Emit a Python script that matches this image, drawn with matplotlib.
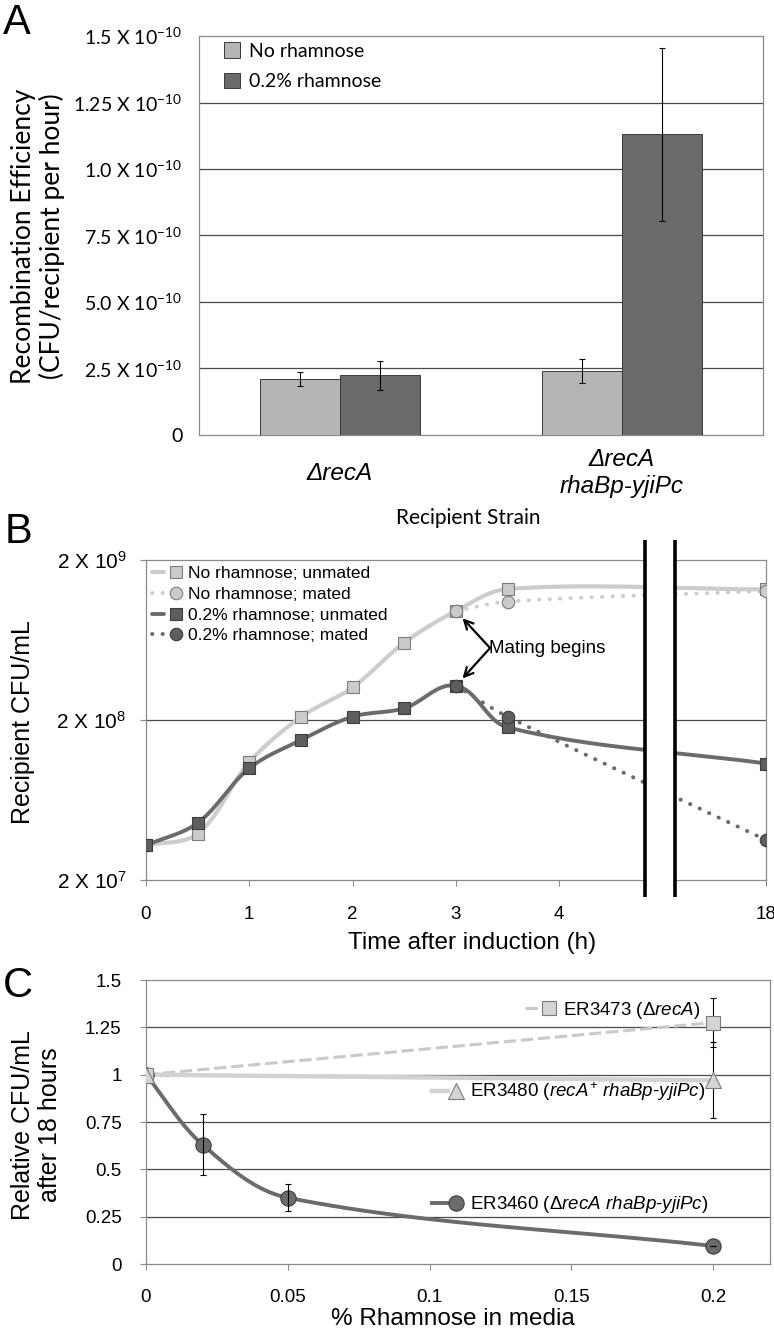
import numpy as np
import matplotlib
matplotlib.use("Agg")
import matplotlib.pyplot as plt
import matplotlib.transforms as mtransforms
from matplotlib.patches import Rectangle
from matplotlib.legend_handler import HandlerTuple

plt.rcParams["font.family"] = "Liberation Sans"
plt.rcParams["mathtext.fontset"] = "custom"
plt.rcParams["mathtext.rm"] = "Liberation Sans"
plt.rcParams["mathtext.it"] = "Liberation Sans:italic"
CAL = "Lato"  # stand-in for Calibri

# ---------------------------------------------------------------- data
# A: recombination efficiency (axis units as printed)
strains = ["\u0394recA", "\u0394recA\nrhaBp-yjiPc"]
eff_no_rha = [0.21, 0.24]
eff_no_rha_err = [0.025, 0.045]
eff_rha = [0.225, 1.13]
eff_rha_err = [0.055, 0.325]
eff_ticks = [0, 0.25, 0.5, 0.75, 1.0, 1.25, 1.5]
eff_ticklabels = ["0", "2.5 X $\\mathdefault{10^{-10}}$", "5.0 X $\\mathdefault{10^{-10}}$",
                  "7.5 X $\\mathdefault{10^{-10}}$", "1.0 X $\\mathdefault{10^{-10}}$",
                  "1.25 X $\\mathdefault{10^{-10}}$", "1.5 X $\\mathdefault{10^{-10}}$"]

# B: recipient CFU/mL after induction
time_h = [0, 0.5, 1, 1.5, 2, 2.5, 3, 3.5, 18]
cfu_no_unmated = [3.3e7, 3.9e7, 1.09e8, 2.09e8, 3.2e8, 6.1e8, 9.6e8, 1.32e9, 1.31e9]
cfu_rha_unmated = [3.3e7, 4.55e7, 1.0e8, 1.5e8, 2.1e8, 2.37e8, 3.28e8, 1.8e8, 1.07e8]
time_mated = [3, 3.5, 18]
cfu_no_mated = [9.6e8, 1.1e9, 1.28e9]
cfu_rha_mated = [3.28e8, 2.1e8, 3.56e7]
time_ticks = [0, 1, 2, 3, 4, 18]
cfu_ticks = [2e7, 2e8, 2e9]
cfu_ticklabels = ["2 X $\\mathdefault{10^{7}}$", "2 X $\\mathdefault{10^{8}}$", "2 X $\\mathdefault{10^{9}}$"]

# C: relative CFU/mL after 18 h vs rhamnose
rha_3473 = [0, 0.2]
rel_3473 = [1.0, 1.275]
err_3473 = [0, 0.13]
rha_3480 = [0, 0.2]
rel_3480 = [1.0, 0.97]
err_3480 = [0, 0.2]
rha_3460 = [0, 0.02, 0.05, 0.2]
rel_3460 = [1.0, 0.63, 0.35, 0.095]
err_3460 = [0, 0.16, 0.07, 0]

LIGHT_LINE = "#cdcdcd"
LIGHT_FACE = "#cbcbcb"
LIGHT_EDGE = "#7c7c7c"
DARK_LINE = "#6b6b6b"
DARK_FACE = "#5e5e5e"
DARK_EDGE = "#3c3c3c"
SPINE = "#8a8a8a"
GRID = "#4a4a4a"


def smooth_curve(x, y, sx=1.0, sy=1.0, n=30):
    # excel-like smoothed line: bezier through the points, tangents from the
    # neighbours, handle length a third of the segment (in screen proportions)
    X = np.asarray(x, float) * sx
    Y = np.asarray(y, float) * sy
    P = np.column_stack([X, Y])
    Pp = np.vstack([P[:1], P, P[-1:]])
    t = np.linspace(0, 1, n)[:, None]
    pts = [P[:1]]
    for i in range(1, len(Pp) - 2):
        p0, p1, p2, p3 = Pp[i - 1], Pp[i], Pp[i + 1], Pp[i + 2]
        L = np.linalg.norm(p2 - p1)
        d1 = (p2 - p0) / np.linalg.norm(p2 - p0)
        d2 = (p3 - p1) / np.linalg.norm(p3 - p1)
        c1 = p1 + d1 * L / 3
        c2 = p2 - d2 * L / 3
        seg = (1 - t) ** 3 * p1 + 3 * (1 - t) ** 2 * t * c1 + 3 * (1 - t) * t ** 2 * c2 + t ** 3 * p2
        pts.append(seg[1:])
    pts = np.vstack(pts)
    return pts[:, 0] / sx, pts[:, 1] / sy


def tpos(t):
    # axis break: 18 h is drawn at position 6
    return np.where(np.asarray(t, float) > 4, 6.0, t)


def frame(ax):
    for s in ax.spines.values():
        s.set_color(SPINE)
        s.set_linewidth(0.9)


fig = plt.figure(figsize=(7.74, 13.29), dpi=100)

# ================================================================ A
ax = fig.add_axes([0.2571, 0.6727, 0.7287, 0.3002])
frame(ax)
xa = np.arange(len(strains))
w = 0.284
ax.bar(xa - w / 2, eff_no_rha, w, color="#b5b5b5", edgecolor="#3a3a3a", linewidth=0.7,
       label="No rhamnose", zorder=3)
ax.bar(xa + w / 2, eff_rha, w, color="#6a6a6a", edgecolor="#3a3a3a", linewidth=0.7,
       label="0.2% rhamnose", zorder=3)
ax.errorbar(xa - w / 2, eff_no_rha, yerr=eff_no_rha_err, fmt="none", ecolor="black",
            elinewidth=0.8, capsize=2, capthick=0.8, zorder=4)
ax.errorbar(xa + w / 2, eff_rha, yerr=eff_rha_err, fmt="none", ecolor="black",
            elinewidth=0.8, capsize=2, capthick=0.8, zorder=4)
ax.set_xlim(-0.5, 1.5)
ax.set_ylim(0, 1.5)
ax.set_yticks(eff_ticks)
ax.set_yticklabels(eff_ticklabels, fontfamily=CAL, fontsize=14)
ax.yaxis.grid(True, color=GRID, linewidth=0.9)
ax.set_axisbelow(True)
gl = ax.get_ygridlines()
gl[0].set_visible(False)
gl[-1].set_visible(False)
ax.tick_params(axis="y", length=0, pad=12)
ax.set_xticks(xa)
ax.set_xticklabels(strains, fontsize=17.5, fontstyle="italic", va="center", linespacing=1.25)
ax.tick_params(axis="x", length=0, pad=27.5)
ax.set_xlabel("Recipient Strain", fontfamily=CAL, fontsize=15, va="center")
ax.xaxis.set_label_coords(0.477, -0.208)
ax.set_ylabel("Recombination Efficiency\n(CFU/recipient per hour)", fontfamily=CAL,
              fontsize=19, va="center", linespacing=1.12)
ax.yaxis.set_label_coords(-0.285, 0.499)
ax.legend(loc="upper left", bbox_to_anchor=(0.044, 0.984), frameon=False, borderpad=0,
          borderaxespad=0, prop={"family": CAL, "size": 14}, handlelength=0.85,
          handleheight=0.85, handletextpad=0.46, labelspacing=0.65)

# ================================================================ B
ax = fig.add_axes([0.1886, 0.3378, 0.801, 0.2408])
frame(ax)
ax.set_yscale("log")
ax.set_xlim(0, 6)
ax.set_ylim(2e7, 2e9)
bsx, bsy = 620 / 6, 160.0

px, py = smooth_curve(tpos(time_h), np.log10(cfu_no_unmated), bsx, bsy)
l1, = ax.plot(px, 10 ** py, color=LIGHT_LINE, lw=3, solid_capstyle="round", zorder=3)
m1, = ax.plot(tpos(time_h), cfu_no_unmated, "s", ms=8.5, mfc=LIGHT_FACE, mec=LIGHT_EDGE, mew=0.8, zorder=4)
px, py = smooth_curve(tpos(time_mated), np.log10(cfu_no_mated), bsx, bsy)
l2, = ax.plot(px, 10 ** py, color=LIGHT_LINE, lw=2.8, linestyle=(0, (0.1, 2.6)),
              dash_capstyle="round", zorder=3)
m2, = ax.plot(tpos(time_mated), cfu_no_mated, "o", ms=9, mfc=LIGHT_FACE, mec=LIGHT_EDGE, mew=0.8, zorder=4)
px, py = smooth_curve(tpos(time_h), np.log10(cfu_rha_unmated), bsx, bsy)
l3, = ax.plot(px, 10 ** py, color=DARK_LINE, lw=2.8, solid_capstyle="round", zorder=3)
m3, = ax.plot(tpos(time_h), cfu_rha_unmated, "s", ms=8.5, mfc=DARK_FACE, mec=DARK_EDGE, mew=0.8, zorder=4)
px, py = smooth_curve(tpos(time_mated), np.log10(cfu_rha_mated), bsx, bsy)
l4, = ax.plot(px, 10 ** py, color=DARK_LINE, lw=2.8, linestyle=(0, (0.1, 2.6)),
              dash_capstyle="round", zorder=3)
m4, = ax.plot(tpos(time_mated), cfu_rha_mated, "o", ms=9, mfc=DARK_FACE, mec=DARK_EDGE, mew=0.8, zorder=4)

ax.yaxis.set_minor_locator(matplotlib.ticker.NullLocator())
ax.set_yticks(cfu_ticks)
ax.set_yticklabels(cfu_ticklabels, fontsize=15)
ax.yaxis.grid(True, color=GRID, linewidth=0.9)
gl = ax.get_ygridlines()
gl[0].set_visible(False)
gl[-1].set_visible(False)
ax.tick_params(axis="y", length=4, width=0.8, color=SPINE, pad=10)
ax.set_xticks(tpos(time_ticks))
ax.set_xticklabels([str(t) for t in time_ticks], fontsize=13.5, va="center")
ax.tick_params(axis="x", length=4, width=0.8, color=SPINE, pad=20.5)
ax.set_xlabel("Time after induction (h)", fontsize=17.5, va="center")
ax.xaxis.set_label_coords(0.526, -0.197)
ax.set_ylabel("Recipient CFU/mL", fontsize=18, va="center")
ax.yaxis.set_label_coords(-0.199, 0.494)

# axis break
brk_lo, brk_hi = 4.83, 5.12
trans = mtransforms.blended_transform_factory(ax.transData, ax.transAxes)
ax.add_patch(Rectangle((brk_lo, -0.053), brk_hi - brk_lo, 1.116, transform=trans,
                       facecolor="white", edgecolor="none", clip_on=False, zorder=6))
for xb in (brk_lo, brk_hi):
    ax.plot([xb, xb], [-0.053, 1.063], transform=trans, color="black", lw=2.6,
            clip_on=False, zorder=7, solid_capstyle="butt")

# annotation
ax.text(3.32, 5.64e8, "Mating begins", fontsize=13.5, ha="left", va="center", zorder=8)
for yv in (cfu_no_mated[0], cfu_rha_mated[0]):
    ax.annotate("", xy=(3, yv), xytext=(3.33, 5.64e8),
                arrowprops=dict(arrowstyle="->", lw=1.6, color="black", shrinkA=0, shrinkB=7,
                                mutation_scale=16), zorder=8)

ax.legend([(l1, m1), (l2, m2), (l3, m3), (l4, m4)],
          ["No rhamnose; unmated", "No rhamnose; mated", "0.2% rhamnose; unmated", "0.2% rhamnose; mated"],
          handler_map={tuple: HandlerTuple(ndivide=None)}, loc="upper left", bbox_to_anchor=(0, 1),
          frameon=False, borderaxespad=0, borderpad=0.35, fontsize=12.5, handlelength=1.72,
          handletextpad=0.35, labelspacing=0.32)

# ================================================================ C
ax = fig.add_axes([0.1886, 0.0489, 0.8062, 0.2137])
frame(ax)
ax.set_xlim(0, 0.22)
ax.set_ylim(0, 1.5)

h1, = ax.plot(rha_3473, rel_3473, color="#c9c9c9", lw=2.2, dashes=(4, 1.6), zorder=3)
k1, = ax.plot(rha_3473, rel_3473, "s", ms=10, mfc="#d4d4d4", mec=LIGHT_EDGE, mew=0.8, zorder=5)
h2, = ax.plot(rha_3480, rel_3480, color="#d2d2d2", lw=3.2, zorder=3)
k2, = ax.plot(rha_3480, rel_3480, "^", ms=11, mfc="#d4d4d4", mec=LIGHT_EDGE, mew=0.8, zorder=5)
px, py = smooth_curve(rha_3460, rel_3460, 624 / 0.22, 284 / 1.5)
h3, = ax.plot(px, py, color=DARK_LINE, lw=2.8, zorder=3)
k3, = ax.plot(rha_3460, rel_3460, "o", ms=11, mfc="#6c6c6c", mec=DARK_EDGE, mew=0.8, zorder=4)
for xs, ys, es in ((rha_3473, rel_3473, err_3473), (rha_3480, rel_3480, err_3480),
                   (rha_3460, rel_3460, err_3460)):
    ax.errorbar(xs, ys, yerr=es, fmt="none", ecolor="black", elinewidth=0.8, capsize=2.2,
                capthick=0.8, zorder=4.5)

ax.set_yticks([0, 0.25, 0.5, 0.75, 1, 1.25, 1.5])
ax.set_yticklabels(["0", "0.25", "0.5", "0.75", "1", "1.25", "1.5"], fontsize=13.5)
ax.yaxis.grid(True, color=GRID, linewidth=0.9)
gl = ax.get_ygridlines()
gl[0].set_visible(False)
gl[-1].set_visible(False)
ax.tick_params(axis="y", length=4, width=0.8, color=SPINE, pad=13.5)
ax.set_xticks([0, 0.05, 0.1, 0.15, 0.2])
ax.set_xticklabels(["0", "0.05", "0.1", "0.15", "0.2"], fontsize=13.5, va="center")
ax.tick_params(axis="x", length=4, width=0.8, color=SPINE, pad=20)
ax.set_xlabel("% Rhamnose in media", fontsize=17.5, va="center")
ax.xaxis.set_label_coords(0.492, -0.192)
ax.set_ylabel("Relative CFU/mL\nafter 18 hours", fontsize=18, va="center", linespacing=1.15)
ax.yaxis.set_label_coords(-0.175, 0.49)

leg_kw = dict(handler_map={tuple: HandlerTuple(ndivide=None)}, loc="center left", frameon=False,
              borderaxespad=0, borderpad=0, fontsize=13.5, handlelength=1.7, handletextpad=0.35)
lg = ax.legend([(h1, k1)], ["ER3473 ($\\mathit{\\Delta recA}$)"], bbox_to_anchor=(0.607, 0.894), **leg_kw)
ax.add_artist(lg)
lg = ax.legend([(h2, k2)], ["ER3480 ($\\mathit{recA}^{+}$ $\\mathit{rhaBp}$-$\\mathit{yjiPc}$)"],
               bbox_to_anchor=(0.458, 0.606), **leg_kw)
ax.add_artist(lg)
ax.legend([(h3, k3)], ["ER3460 ($\\mathit{\\Delta recA}$ $\\mathit{rhaBp}$-$\\mathit{yjiPc}$)"],
          bbox_to_anchor=(0.458, 0.208), **leg_kw)

# panel letters
fig.text(3 / 774, 1 - 34 / 1329, "A", fontsize=30, va="baseline")
fig.text(5 / 774, 1 - 543 / 1329, "B", fontsize=30, va="baseline")
fig.text(3 / 774, 1 - 997 / 1329, "C", fontsize=30, va="baseline")

fig.savefig("out.png", dpi=100)
